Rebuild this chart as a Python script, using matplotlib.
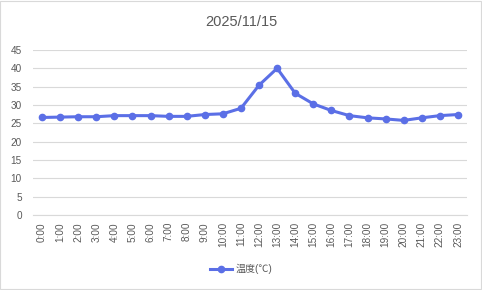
import matplotlib
matplotlib.use("Agg")
import matplotlib.pyplot as plt
from matplotlib.patches import Rectangle

plt.rcParams['font.family'] = ['Liberation Sans', 'Noto Sans CJK JP', 'DejaVu Sans']

title = "2025/11/15"
hours = [f"{h}:00" for h in range(24)]
temps = [26.6, 26.7, 26.8, 26.8, 27.1, 27.1, 27.1, 26.9, 26.9, 27.4, 27.6, 29.1,
         35.4, 40.0, 33.2, 30.3, 28.5, 27.1, 26.5, 26.2, 25.8, 26.5, 27.1, 27.4]
series_name = "温度(℃)"
yticks = list(range(0, 50, 5))

line_color = "#5B6FE6"
text_color = "#595959"
grid_color = "#D9D9D9"

fig = plt.figure(figsize=(4.82, 2.90), dpi=100)
fig.patches.append(Rectangle((0.001, 0.002), 0.997, 0.995, transform=fig.transFigure,
                             fill=False, edgecolor="#D9D9D9", linewidth=0.8))
ax = fig.add_axes([33/482, 1-215/290, (467-33)/482, (215-50)/290])

x = list(range(len(hours)))
ax.plot(x, temps, color=line_color, linewidth=2.2, marker='o', markersize=4.5,
        label=series_name, zorder=3)

ax.set_xlim(-0.5, len(hours)-0.5)
ax.set_ylim(0, 45)
ax.set_yticks(yticks)
ax.set_xticks(x)
ax.set_xticklabels(hours, rotation=90)
ax.grid(axis='y', color=grid_color, linewidth=0.8)
ax.set_axisbelow(True)
for s in ['top', 'right', 'left']:
    ax.spines[s].set_visible(False)
ax.spines['bottom'].set_color(grid_color)
ax.spines['bottom'].set_linewidth(0.8)
ax.tick_params(axis='both', length=0, colors=text_color, labelsize=7.2)
ax.tick_params(axis='y', pad=8)
ax.tick_params(axis='x', pad=5)

fig.text(0.5, 1-22/290, title, ha='center', va='center', fontsize=10.5, color=text_color)

leg = fig.legend(loc='center', bbox_to_anchor=(0.5, 1-269/290), frameon=False,
                 fontsize=7.2, handlelength=2.2, handletextpad=0.3)
for t in leg.get_texts():
    t.set_color(text_color)

fig.savefig("out.png", dpi=100)
